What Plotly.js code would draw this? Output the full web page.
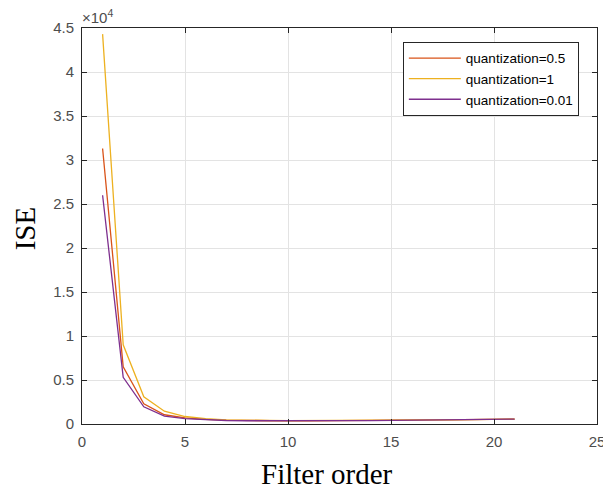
<!DOCTYPE html>
<html>
<head>
<meta charset="utf-8">
<script src="https://cdn.plot.ly/plotly-3.0.1.min.js"></script>
<style>html,body{margin:0;padding:0;background:#fff;}#chart{width:603px;height:488px;}</style>
</head>
<body>
<div id="chart"></div>
<script>
const filterOrder = [1,2,3,4,5,6,7,8,9,10,11,12,13,14,15,16,17,18,19,20,21];
const iseQ05  = [31300,6500,2300,1050,700,520,430,390,370,360,360,370,380,395,410,430,450,470,495,515,555];
const iseQ1   = [44300,9000,3100,1450,850,600,480,420,400,390,390,395,400,410,420,440,460,480,500,520,560];
const iseQ001 = [26000,5300,1950,900,600,470,400,370,355,350,355,365,375,390,405,425,445,465,490,510,550];
const seriesNames = ['quantization=0.5','quantization=1','quantization=0.01'];
const seriesColors = ['#D95319','#EDB120','#7E2F8E'];
const yTickVals = [0,5000,10000,15000,20000,25000,30000,35000,40000,45000];
const yTickText = ['0','0.5','1','1.5','2','2.5','3','3.5','4','4.5'];
const xTickVals = [0,5,10,15,20,25];

const allY = [iseQ05, iseQ1, iseQ001];
const traces = allY.map((ys,i)=>({
  x: filterOrder, y: ys, type:'scatter', mode:'lines',
  name: seriesNames[i],
  line:{color: seriesColors[i], width:1.3}
}));

const sans = 'Liberation Sans, Arial, sans-serif';
const serif = 'Liberation Serif, Times New Roman, serif';
const tickFont = {family:sans, size:15, color:'#4d4d4d'};
const layout = {
  width:603, height:488,
  margin:{l:82, r:6, t:28, b:64},
  paper_bgcolor:'#fff', plot_bgcolor:'#fff',
  showlegend:true,
  legend:{x:0.623, y:0.965, xanchor:'left', yanchor:'top',
    bgcolor:'#fff', bordercolor:'#262626', borderwidth:1,
    font:{family:sans, size:13.5, color:'#000'},
    tracegroupgap:0, itemwidth:52},
  xaxis:{range:[0,25], tickvals:xTickVals, ticktext:xTickVals.map(String),
    showgrid:true, gridcolor:'#e3e3e3', gridwidth:1, zeroline:false,
    showline:true, linecolor:'#262626', linewidth:1, mirror:'ticks',
    ticks:'inside', ticklen:5, tickcolor:'#262626',
    tickfont:tickFont, ticklabeloverflow:'allow', ticklabelstandoff:4},
  yaxis:{range:[0,45000], tickvals:yTickVals, ticktext:yTickText,
    showgrid:true, gridcolor:'#e3e3e3', gridwidth:1, zeroline:false,
    showline:true, linecolor:'#262626', linewidth:1, mirror:'ticks',
    ticks:'inside', ticklen:5, tickcolor:'#262626',
    tickfont:tickFont, ticklabelstandoff:4},
  annotations:[
    {xref:'paper', yref:'paper', x:-0.004, y:1, xanchor:'left', yanchor:'bottom',
     text:'×10<sup>4</sup>', showarrow:false,
     font:{family:sans, size:15, color:'#4d4d4d'}},
    {xref:'paper', yref:'paper', x:0.476, y:-0.125, xanchor:'center', yanchor:'middle',
     text:'Filter order', showarrow:false,
     font:{family:serif, size:29, color:'#000'}},
    {xref:'paper', yref:'paper', x:-0.11, y:0.495, xanchor:'center', yanchor:'middle',
     text:'ISE', textangle:-90, showarrow:false,
     font:{family:serif, size:29, color:'#000'}}
  ]
};
Plotly.newPlot('chart', traces, layout, {displayModeBar:false, staticPlot:true});
</script>
</body>
</html>
